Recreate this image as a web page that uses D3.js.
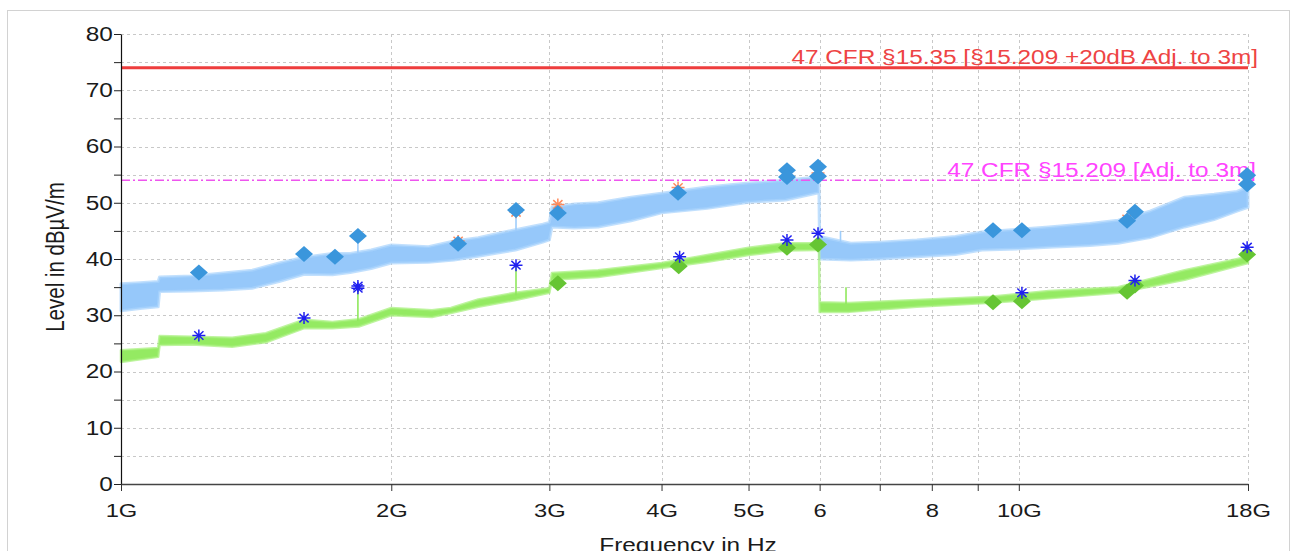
<!DOCTYPE html>
<html>
<head>
<meta charset="UTF-8">
<title>Level vs frequency</title>
<script src="https://cdn.jsdelivr.net/npm/d3@7"></script>
<style type="text/css">
	body { margin:0; background:white; }
	text { font-family:"Liberation Sans", Arial, sans-serif; }
</style>
</head>
<body>
<script type="text/javascript">

// trace envelopes (freq in GHz, level in dBuV/m)
var peakFreq = [1.0, 1.05, 1.1, 1.104, 1.2, 1.3, 1.4, 1.5, 1.6, 1.72, 1.8, 1.9, 2.0, 2.2, 2.35, 2.5, 2.75, 2.95, 3.0, 3.02, 3.2, 3.4, 3.7, 4.0, 4.5, 5.0, 5.5, 5.95, 5.99, 6.0, 6.5, 7.0, 7.7, 8.5, 9.1, 10.0, 10.8, 12.0, 12.9, 14.0, 15.3, 16.5, 17.5, 18.0];
var peakLo   = [30.8, 31.2, 31.5, 34.2, 34.3, 34.5, 34.8, 36.0, 37.3, 37.2, 37.6, 38.3, 39.3, 39.4, 39.8, 40.5, 41.6, 43.0, 43.4, 45.7, 45.5, 45.7, 46.8, 48.2, 49.0, 50.1, 50.5, 51.7, 51.7, 40.0, 39.8, 40.0, 40.4, 40.8, 41.6, 41.8, 42.1, 42.4, 42.8, 43.8, 45.7, 47.0, 48.5, 49.2];
var peakHi   = [35.6, 35.8, 36.0, 36.8, 37.0, 37.5, 38.0, 39.3, 40.3, 41.0, 41.0, 41.6, 42.5, 42.2, 43.2, 43.8, 45.2, 46.2, 46.5, 49.2, 49.8, 50.0, 51.0, 51.7, 52.8, 53.5, 54.0, 54.6, 54.6, 44.0, 42.8, 43.0, 43.4, 44.0, 44.8, 45.3, 45.7, 46.3, 46.9, 48.5, 51.0, 51.5, 52.0, 52.8];

var avgFreq = [1.0, 1.1, 1.104, 1.2, 1.33, 1.45, 1.6, 1.72, 1.84, 2.0, 2.22, 2.33, 2.5, 2.75, 3.0, 3.02, 3.4, 4.0, 4.5, 5.0, 5.5, 5.95, 5.99, 6.0, 6.47, 7.7, 9.3, 10.8, 12.9, 15.3, 18.0];
var avgLo   = [21.7, 22.6, 24.7, 24.8, 24.4, 25.2, 27.7, 27.7, 28.0, 30.0, 29.7, 30.4, 31.5, 32.7, 34.0, 36.3, 36.8, 38.4, 39.5, 40.7, 41.5, 41.6, 41.6, 30.6, 30.6, 31.5, 32.2, 33.0, 34.0, 36.3, 39.3];
var avgHi   = [23.8, 24.2, 26.3, 26.2, 26.0, 26.8, 29.2, 28.8, 29.3, 31.3, 30.9, 31.3, 32.8, 34.0, 34.8, 37.5, 38.0, 39.3, 40.7, 42.0, 42.8, 42.8, 42.8, 32.3, 32.2, 32.7, 33.3, 34.3, 35.0, 38.0, 40.4];

// narrow spikes sticking out of the traces
var peakSpikeFreq = [1.836, 2.754, 6.33];
var peakSpikeBase = [41.0, 45.0, 43.0];
var peakSpikeTop  = [44.0, 48.7, 45.0];
var avgSpikeFreq = [1.836, 2.754, 6.42];
var avgSpikeBase = [29.0, 33.5, 32.0];
var avgSpikeTop  = [35.0, 38.9, 35.0];

// markers
var peakFinalFreq = [1.221, 1.599, 1.731, 1.836, 2.374, 2.754, 3.066, 4.173, 5.518, 5.518, 5.975, 5.975, 9.36, 10.08, 13.2, 13.47, 17.96, 17.96];
var peakFinalVal  = [37.6, 40.9, 40.4, 44.1, 42.7, 48.7, 48.2, 51.8, 55.8, 54.6, 56.4, 54.7, 45.1, 45.1, 46.8, 48.4, 54.9, 53.3];
var peakPrelimFreq = [2.374, 2.754, 3.066, 4.173, 5.975, 13.2, 17.96];
var peakPrelimVal  = [43.2, 48.3, 49.7, 52.7, 55.3, 47.1, 53.6];
var avgFinalFreq = [3.066, 4.18, 5.518, 5.975, 9.36, 10.08, 13.2, 13.47, 17.96];
var avgFinalVal  = [35.7, 38.7, 42.0, 42.6, 32.3, 32.5, 34.2, 35.3, 40.8];
var avgPrelimFreq = [1.221, 1.599, 1.836, 1.836, 2.754, 4.19, 5.518, 5.975, 10.08, 13.47, 17.96];
var avgPrelimVal  = [26.4, 29.5, 35.2, 34.8, 38.9, 40.4, 43.4, 44.6, 34.0, 36.2, 42.1];

// limits
var limitNames = ['47 CFR §15.35 [§15.209 +20dB Adj. to 3m]', '47 CFR §15.209 [Adj. to 3m]'];
var limitVals = [74, 54];

// axis ticks
var xTicks = [1, 2, 3, 4, 5, 6, 7, 8, 9, 10, 18];
var xTickLabels = ['1G', '2G', '3G', '4G', '5G', '6', '', '8', '', '10G', '18G'];
var xGrid = [2, 3, 4, 5, 6, 7, 8, 9, 10, 18];
var yTicks = d3.range(0, 81, 5);

var W = 1295, H = 551, SX = 1.25;
var pL = 121, pR = 1248, pT = 34, pB = 484;

var x = d3.scaleLog().domain([1, 18]).range([pL, pR]);
var y = d3.scaleLinear().domain([0, 80]).range([pB, pT]);

var svg = d3.select('body').append('svg')
	.attr('width', W)
	.attr('height', H);

// outer frame
svg.append('rect')
	.attr('x', 7.5).attr('y', 10.5)
	.attr('width', 1282).attr('height', 580)
	.attr('fill', 'white')
	.attr('stroke', '#d2d2d2');

// grid
var grid = svg.append('g').attr('stroke', '#c8c8c8').attr('stroke-dasharray', '3,3');
grid.selectAll('.hg').data(yTicks.filter(function(d){ return d > 0; })).enter().append('line')
	.attr('x1', pL).attr('x2', pR)
	.attr('y1', function(d){ return Math.round(y(d)) + 0.5; })
	.attr('y2', function(d){ return Math.round(y(d)) + 0.5; });
grid.selectAll('.vg').data(xGrid).enter().append('line')
	.attr('y1', pT).attr('y2', pB)
	.attr('x1', function(d){ return Math.round(x(d)) + 0.5; })
	.attr('x2', function(d){ return Math.round(x(d)) + 0.5; });

// traces as bands, soft edge to look like the noisy sweep
function band(fr, lo, hi) {
	return d3.area()
		.x(function(d, i){ return x(fr[i]); })
		.y0(function(d, i){ return y(lo[i]); })
		.y1(function(d, i){ return y(hi[i]); })(fr);
}
svg.append('path').attr('d', band(peakFreq, peakLo, peakHi))
	.attr('fill', '#96c8fa').attr('stroke', '#a8d3fc').attr('stroke-opacity', 0.7)
	.attr('stroke-width', 3).attr('stroke-linejoin', 'round');
svg.append('path').attr('d', band(avgFreq, avgLo, avgHi))
	.attr('fill', '#94ea62').attr('stroke', '#a4ef78').attr('stroke-opacity', 0.7)
	.attr('stroke-width', 2.5).attr('stroke-linejoin', 'round');

function spikes(fr, base, topv, col) {
	svg.append('g').selectAll('line').data(fr).enter().append('line')
		.attr('x1', function(d){ return x(d); })
		.attr('x2', function(d){ return x(d); })
		.attr('y1', function(d, i){ return y(base[i]); })
		.attr('y2', function(d, i){ return y(topv[i]); })
		.attr('stroke', col).attr('stroke-width', 1.6);
}
spikes(peakSpikeFreq, peakSpikeBase, peakSpikeTop, '#9fcdfb');
spikes(avgSpikeFreq, avgSpikeBase, avgSpikeTop, '#8fe85c');

// limit lines
svg.append('line')
	.attr('x1', pL).attr('x2', pR)
	.attr('y1', y(limitVals[0])).attr('y2', y(limitVals[0]))
	.attr('stroke', '#ee3d3d').attr('stroke-width', 3);
svg.append('line')
	.attr('x1', pL).attr('x2', pR)
	.attr('y1', y(limitVals[1])).attr('y2', y(limitVals[1]))
	.attr('stroke', '#ee55ee').attr('stroke-width', 1.4)
	.attr('stroke-dasharray', '9,3,2,3');

svg.append('text')
	.attr('transform', 'translate(1258,' + (y(limitVals[0]) - 4) + ') scale(' + SX + ',1)')
	.attr('text-anchor', 'end').attr('font-size', 19.5)
	.attr('fill', '#ee4444')
	.text(limitNames[0]);
svg.append('text')
	.attr('transform', 'translate(1256,' + (y(limitVals[1]) - 3) + ') scale(' + SX + ',1)')
	.attr('text-anchor', 'end').attr('font-size', 19.5)
	.attr('fill', '#ff44ff')
	.text(limitNames[1]);

// axes
var yAxis = d3.axisLeft(y).tickValues(yTicks).tickSize(7).tickSizeOuter(0)
	.tickFormat(function(d){ return d % 10 == 0 ? d : ''; });
var gy = svg.append('g').attr('transform', 'translate(' + pL + ',0)').call(yAxis);
gy.selectAll('text').attr('x', -6.5).attr('font-size', 19.5).attr('fill', '#1a1a1a')
	.attr('transform', 'scale(' + SX + ',1)');
gy.selectAll('line').attr('stroke', '#222');
gy.select('.domain').attr('stroke', '#111').attr('stroke-width', 1.2);

var xAxis = d3.axisBottom(x).tickValues(xTicks).tickSize(7).tickSizeOuter(0)
	.tickFormat(function(d, i){ return xTickLabels[i]; });
var gx = svg.append('g').attr('transform', 'translate(0,' + pB + ')').call(xAxis);
gx.selectAll('text').attr('y', 20).attr('font-size', 19).attr('fill', '#1a1a1a')
	.attr('transform', 'scale(' + SX + ',1)');
gx.selectAll('line').attr('stroke', '#333');
gx.select('.domain').attr('stroke', '#444').attr('stroke-width', 1.5);

svg.append('text')
	.attr('transform', 'translate(64,257) scale(' + SX + ',1) rotate(-90)')
	.attr('text-anchor', 'middle').attr('font-size', 20.5).attr('fill', '#1a1a1a')
	.text('Level in dBµV/m');
svg.append('text')
	.attr('transform', 'translate(688,552) scale(' + SX + ',1)')
	.attr('text-anchor', 'middle').attr('font-size', 19.5).attr('fill', '#1a1a1a')
	.text('Frequency in Hz');

// markers
var diamond = 'M0,-8L9,0L0,8L-9,0Z';
var aster = 'M-6.5,0L6.5,0M0,-6L0,6M-4.6,-4.3L4.6,4.3M-4.6,4.3L4.6,-4.3';

function marks(fr, vals, path, col, isStroke) {
	svg.append('g').selectAll('path').data(fr).enter().append('path')
		.attr('d', path)
		.attr('transform', function(d, i){ return 'translate(' + x(d) + ',' + y(vals[i]) + ')'; })
		.attr('fill', isStroke ? 'none' : col)
		.attr('stroke', isStroke ? col : 'none')
		.attr('stroke-width', 1.5);
}
marks(peakPrelimFreq, peakPrelimVal, aster, '#ff8a5c', true);
marks(peakFinalFreq, peakFinalVal, diamond, '#3a96dc', false);
marks(avgFinalFreq, avgFinalVal, diamond, '#66c534', false);
marks(avgPrelimFreq, avgPrelimVal, aster, '#2020f0', true);

</script>
</body>
</html>
